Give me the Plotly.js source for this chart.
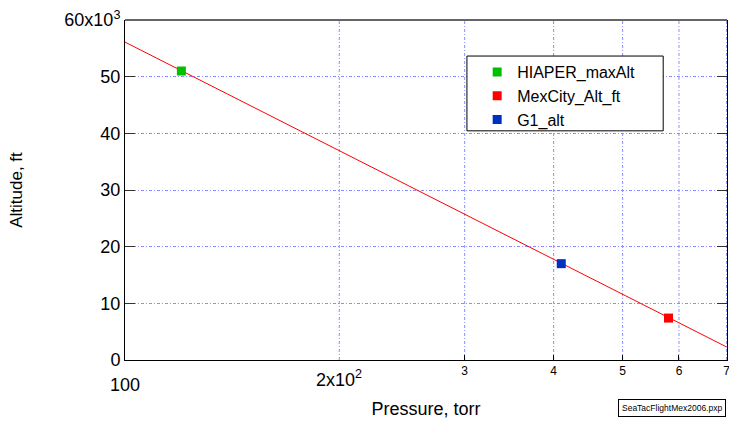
<!DOCTYPE html>
<html><head><meta charset="utf-8">
<script src="https://cdn.plot.ly/plotly-3.0.1.min.js"></script>
<style>body{margin:0;background:#fff}#c{width:729px;height:429px}</style>
</head><body><div id="c"></div>
<script>
// fitted altitude line
const linePressure = [100, 150, 200, 300, 400, 500, 600, 700];
const lineAltitude = [56100, 44900, 37000, 25700, 17800, 11600, 6550, 2300];
// points
const hiaperP = [120], hiaperAlt = [51000];
const mexP = [580], mexAlt = [7400];
const g1P = [410], g1Alt = [17000];
// ticks
const yTickVals = [0, 10000, 20000, 30000, 40000, 50000, 60000];
const yTickText = ["0", "10", "20", "30", "40", "50", "60x10<sup>3</sup>"];
const xTickVals = [300, 400, 500, 600, 700];
const xTickText = ["3", "4", "5", "6", "7"];
const xGridVals = [200, 300, 400, 500, 600, 700];
const xBigLabels = [{v: 100, t: "100"}, {v: 200, t: "2x10<sup>2</sup>"}];

const font = "Liberation Sans, Arial, sans-serif";
const gridDash = "3px,2px,1px,2px";
const gridColor = "#8c8cff";
const traces = [
  {x: linePressure, y: lineAltitude, mode: "lines", line: {color: "#ff0000", width: 1}, showlegend: false, hoverinfo: "skip"},
  {x: hiaperP, y: hiaperAlt, mode: "markers", name: "HIAPER_maxAlt", marker: {symbol: "square", size: 9, color: "#00c000"}},
  {x: mexP, y: mexAlt, mode: "markers", name: "MexCity_Alt_ft", marker: {symbol: "square", size: 9, color: "#ff0000"}},
  {x: g1P, y: g1Alt, mode: "markers", name: "G1_alt", marker: {symbol: "square", size: 9, color: "#0030c0"}}
];
const annotations = xBigLabels.map(o => ({
  x: Math.log10(o.v), xref: "x", y: 0, yref: "paper", yshift: o.v === 100 ? -25 : -18,
  text: o.t, showarrow: false, font: {family: font, size: 18, color: "#000"},
  xanchor: "center", yanchor: "middle"
}));
annotations.push({x: 1, xref: "paper", y: 0, yref: "paper", yshift: -48, xshift: -1, xanchor: "right", yanchor: "middle",
  text: "SeaTacFlightMex2006.pxp", showarrow: false, bordercolor: "#000", borderwidth: 1, borderpad: 3,
  font: {family: font, size: 8.5, color: "#000"}, bgcolor: "#fff"});
const layout = {
  width: 729, height: 429,
  margin: {l: 125, r: 2, t: 20, b: 69},
  paper_bgcolor: "#fff", plot_bgcolor: "#fff",
  font: {family: font, color: "#000"},
  xaxis: {type: "log", range: [2, Math.log10(700) + 0.0005], tickvals: xTickVals, ticktext: xTickText,
    tickfont: {size: 12}, ticks: "inside", ticklen: 5, tickcolor: "#000", ticklabeloverflow: "allow",
    showgrid: false, showline: true, linecolor: "#000", linewidth: 1, zeroline: false,
    title: {text: "Pressure, torr", font: {size: 18}, standoff: 24}},
  yaxis: {range: [0, 60000], tickvals: yTickVals, ticktext: yTickText, tickfont: {size: 18},
    ticks: "inside", ticklen: 10, tickcolor: "#333", mirror: "ticks",
    showgrid: true, gridcolor: gridColor, griddash: gridDash, gridwidth: 1,
    showline: true, linecolor: "#000", linewidth: 1, zeroline: false,
    title: {text: "Altitude, ft", font: {size: 17}, standoff: 37}},
  shapes: xGridVals.map(v => ({type: "line", xref: "x", yref: "paper", x0: v, x1: v, y0: 0, y1: 1,
      line: {color: gridColor, width: 1, dash: gridDash}, layer: "below"}))
    .concat([
      {type: "line", xref: "paper", yref: "paper", x0: 0, x1: 1, y0: 1, y1: 1, line: {color: "#666", width: 2}},
      {type: "rect", xref: "paper", yref: "paper", x0: 0.568, x1: 0.894, y0: 0.674, y1: 0.894,
        line: {color: "#000", width: 1}, fillcolor: "#fff", layer: "above"}
    ]),
  legend: {x: 0.585, y: 0.897, xanchor: "left", yanchor: "top", borderwidth: 0,
    bgcolor: "rgba(0,0,0,0)", font: {size: 16}, itemwidth: 30, tracegroupgap: 0},
  annotations: annotations,
  showlegend: true
};
Plotly.newPlot("c", traces, layout, {displayModeBar: false, staticPlot: true});
</script></body></html>
